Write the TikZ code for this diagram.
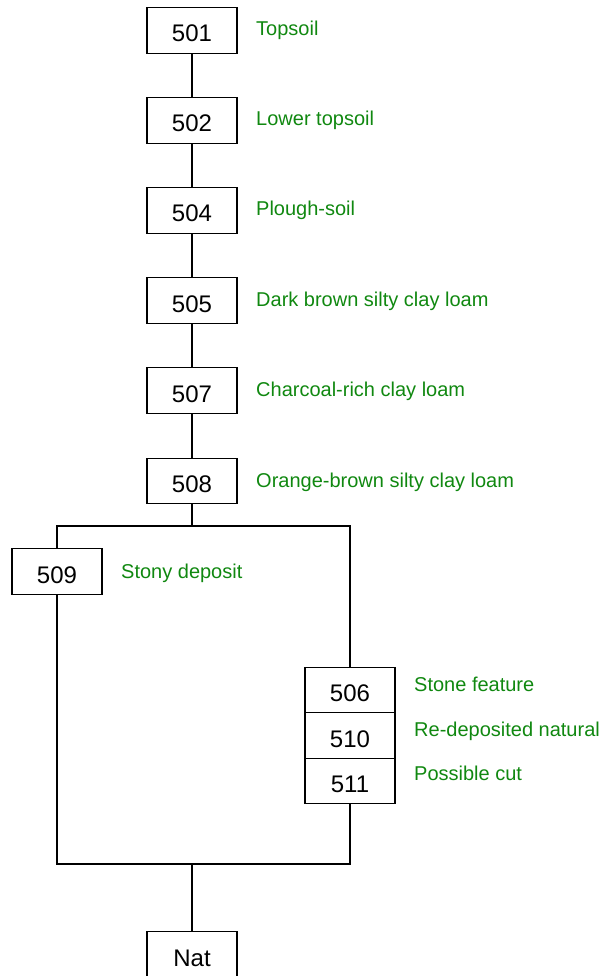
\documentclass[tikz,border=0pt]{standalone}
\usepackage{fontspec}
\setmainfont{Liberation Sans}
\definecolor{lblgreen}{RGB}{16,136,16}
\begin{document}
\begin{tikzpicture}[x=1pt,y=-1pt,
  ctx/.style={draw=black, line width=1.4pt, fill=white, minimum width=90pt, minimum height=45.5pt,
    inner sep=0pt, text height=23pt, text depth=0pt, font=\fontsize{24}{24}\selectfont},
  lbl/.style={anchor=base west, text=lblgreen, inner sep=0pt, font=\fontsize{20}{20}\selectfont},
  link/.style={draw=black, line width=1.4pt}]
\useasboundingbox (0,0) rectangle (605,976);
\clip (0,0) rectangle (605,976);
% boxes
\node[ctx] (b501) at (192,30.5) {501};
\node[ctx] (b502) at (192,120.5) {502};
\node[ctx] (b504) at (192,210.5) {504};
\node[ctx] (b505) at (192,300.5) {505};
\node[ctx] (b507) at (192,390.5) {507};
\node[ctx] (b508) at (192,481) {508};
\node[ctx] (b509) at (57,571.5) {509};
\node[ctx] (b506) at (350,690) {506};
\node[ctx] (b510) at (350,735.5) {510};
\node[ctx] (b511) at (350,781) {511};
\node[ctx] (nat) at (192,954.5) {Nat};
% labels
\node[lbl] (l501) at (256,36) {Topsoil};
\node[lbl] (l502) at (256,126) {Lower topsoil};
\node[lbl] (l504) at (256,216) {Plough-soil};
\node[lbl] (l505) at (256,306) {Dark brown silty clay loam};
\node[lbl] (l507) at (256,396) {Charcoal-rich clay loam};
\node[lbl] (l508) at (256,487) {Orange-brown silty clay loam};
\node[lbl] (l509) at (121,578) {Stony deposit};
\node[lbl] (l506) at (414,691) {Stone feature};
\node[lbl] (l510) at (414,736) {Re-deposited natural};
\node[lbl] (l511) at (414,780) {Possible cut};
% junctions
\coordinate (topbar) at (192,526);
\coordinate (botbar) at (192,864);
% connectors
\draw[link] (b501) -- (b502);
\draw[link] (b502) -- (b504);
\draw[link] (b504) -- (b505);
\draw[link] (b505) -- (b507);
\draw[link] (b507) -- (b508);
\draw[link] (b508) -- (topbar);
\draw[link] (b509.north) |- (topbar) -| (b506.north);
\draw[link] (b509.south) |- (botbar) -| (b511.south);
\draw[link] (botbar) -- (nat);
\end{tikzpicture}
\end{document}
